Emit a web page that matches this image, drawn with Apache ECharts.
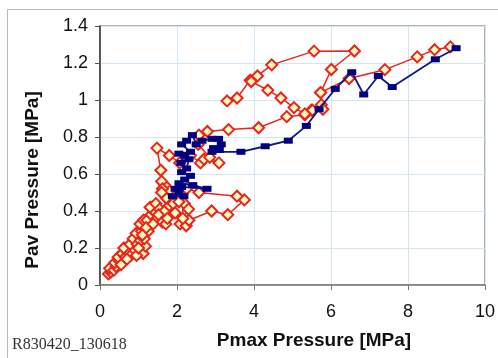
<!DOCTYPE html>
<html>
<head>
<meta charset="utf-8">
<script src="https://cdn.jsdelivr.net/npm/echarts@6/dist/echarts.min.js"></script>
<style>
html,body{margin:0;padding:0;background:#fff;}
#chart{width:498px;height:358px;}
</style>
</head>
<body>
<div id="chart"></div>
<script>
// ---- data ----
var xTitle = 'Pmax Pressure [MPa]';
var yTitle = 'Pav Pressure [MPa]';
var footnote = 'R830420_130618';

// red run 1 (diamonds): [Pmax, Pav]
var redRun1 = [
  [0.22,0.06],[0.28,0.07],[0.25,0.09],[0.36,0.08],[0.42,0.10],[0.38,0.12],[0.50,0.13],[0.47,0.15],
  [0.58,0.17],[0.66,0.15],[0.72,0.18],[0.62,0.20],[0.80,0.16],[0.90,0.19],[0.78,0.22],[0.86,0.25],
  [0.97,0.22],[1.12,0.17],[1.18,0.21],[1.05,0.24],[0.94,0.28],[1.08,0.29],[1.15,0.25],[1.25,0.29],
  [1.04,0.33],[1.13,0.35],[1.22,0.35],[1.33,0.38],[1.40,0.40],[1.30,0.42],[1.45,0.44],[1.55,0.41],
  [1.48,0.36],[1.62,0.34],[1.71,0.33],[1.68,0.40],[1.80,0.43],[1.90,0.44],[2.19,0.44],[2.08,0.33],
  [2.24,0.32],[2.31,0.35],[2.90,0.40],[3.32,0.38],[3.75,0.46],[3.56,0.48],[2.57,0.50],[2.25,0.52],
  [1.80,0.51],[1.68,0.54],[1.60,0.56],[1.62,0.52],[1.58,0.62],[1.48,0.74],[1.80,0.70],[2.07,0.66],
  [2.35,0.70],[2.61,0.66],[2.70,0.68],[3.09,0.66],[2.85,0.69],[2.55,0.76],[2.57,0.81],[2.79,0.83],
  [3.34,0.84],[4.12,0.85],[4.85,0.91],[5.32,0.92],[5.49,0.945],[5.75,0.975],[5.73,1.04],[6.01,1.165],
  [6.61,1.265],[5.56,1.264],[4.46,1.19],[4.09,1.13],[3.90,1.107],[3.56,1.011],[3.30,0.995]
];
// red run 2 (diamonds)
var redRun2 = [
  [3.93,1.10],[4.36,1.053],[4.70,1.011],[5.04,0.959],[5.32,0.925],[5.52,0.945],[5.79,0.95],
  [5.73,1.04],[6.47,1.116],[7.40,1.164],[8.24,1.233],[8.69,1.272],[9.10,1.287]
];
// red run 3 (diamonds), second pass through the low cluster
var redRun3 = [
  [0.55,0.11],[0.70,0.14],[0.95,0.16],[1.00,0.20],[1.10,0.27],[1.20,0.31],[1.38,0.33],[1.52,0.38],
  [1.75,0.36],[1.95,0.39],[2.15,0.36],[2.30,0.41],[2.05,0.45],[1.72,0.47],[1.60,0.50]
];
// blue run (dashes)
var blueRun = [
  [1.88,0.48],[2.18,0.48],[2.05,0.50],[1.95,0.52],[2.12,0.53],[2.78,0.52],[2.41,0.54],[2.05,0.55],
  [2.20,0.57],[2.35,0.59],[2.12,0.61],[2.25,0.63],[2.31,0.68],[2.10,0.66],[2.20,0.70],[2.05,0.71],
  [2.35,0.72],[2.12,0.76],[2.25,0.78],[2.40,0.81],[2.50,0.76],[2.65,0.78],[2.91,0.79],[3.08,0.79],
  [3.15,0.76],[2.95,0.74],[3.10,0.73],[2.91,0.72],[3.66,0.72],[4.29,0.75],[4.89,0.78],[5.36,0.86],
  [5.69,0.95],[6.11,1.06],[6.54,1.15],[6.85,1.03],[7.23,1.13],[7.59,1.07],[8.71,1.22],[9.25,1.28]
];
var xMin = 0, xMax = 10, xStep = 2;
var yMin = 0, yMax = 1.4, yStep = 0.2;

var chart = echarts.init(document.getElementById('chart'), null, {renderer:'canvas'});

function redSeries(d){
  return {
    type:'line', data:d, showSymbol:true, symbol:'diamond', symbolSize:11,
    lineStyle:{color:'#E8241C', width:1.5},
    itemStyle:{color:'#FFFBC0', borderColor:'#E8241C', borderWidth:2},
    z:3, animation:false
  };
}

chart.setOption({
  animation:false,
  grid:{left:100, top:26, right:10, bottom:73, show:true, borderColor:'#9a9a9a', borderWidth:1.5},
  xAxis:{
    type:'value', min:xMin, max:xMax, interval:xStep,
    axisLine:{show:true, onZero:false, lineStyle:{color:'#777', width:1.5}},
    axisTick:{show:true, inside:false, length:5, lineStyle:{color:'#777'}},
    axisLabel:{color:'#111', fontSize:18, fontFamily:'Arial, Liberation Sans', margin:18},
    splitLine:{show:true, lineStyle:{color:'#D3E5F3', width:1}}
  },
  yAxis:{
    type:'value', min:yMin, max:yMax, interval:yStep,
    axisLine:{show:true, onZero:false, lineStyle:{color:'#333', width:1.5}},
    axisTick:{show:true, inside:false, length:5, lineStyle:{color:'#555'}},
    axisLabel:{color:'#111', fontSize:18, fontFamily:'Arial, Liberation Sans', margin:12,
      formatter:function(v){return String(Math.round(v*10)/10);}},
    splitLine:{show:true, lineStyle:{color:'#D3E5F3', width:1}}
  },
  series:[
    redSeries(redRun1),
    redSeries(redRun2),
    redSeries(redRun3),
    {
      type:'line', data:blueRun, showSymbol:true, symbol:'rect', symbolSize:[9,6],
      lineStyle:{color:'#0A1A8A', width:1.8},
      itemStyle:{color:'#000080'},
      z:4, animation:false
    }
  ],
  graphic:[
    {type:'rect', left:5, top:7, shape:{width:600, height:400},
      style:{fill:'none', stroke:'#b8b8b8', lineWidth:1}, silent:true, z:-1},
    {type:'text', x:33, y:180, rotation:Math.PI/2,
      style:{text:yTitle, font:'bold 19px Arial, Liberation Sans', fill:'#111',
        textAlign:'center', textVerticalAlign:'middle'}},
    {type:'text', x:314, y:341,
      style:{text:xTitle, font:'bold 19px Arial, Liberation Sans', fill:'#111',
        textAlign:'center', textVerticalAlign:'middle'}},
    {type:'text', x:12, y:345,
      style:{text:footnote, font:'16px "Liberation Serif", "Times New Roman", serif', fill:'#333',
        textAlign:'left', textVerticalAlign:'middle'}}
  ]
});
</script>
</body>
</html>
